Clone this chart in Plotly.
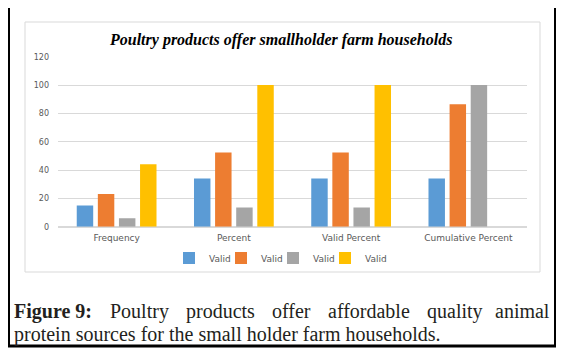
import plotly.graph_objects as go

categories = ["Frequency", "Percent", "Valid Percent", "Cumulative Percent"]
series_names = ["Valid", "Valid", "Valid", "Valid"]
series1 = [15, 34.1, 34.1, 34.1]
series2 = [23, 52.3, 52.3, 86.4]
series3 = [6, 13.6, 13.6, 100]
series4 = [44, 100, 100, None]
colors = ["#5B9BD5", "#ED7D31", "#A5A5A5", "#FFC000"]
y_ticks = [0, 20, 40, 60, 80, 100, 120]

# page body has an 8px margin; figure is sized to fill the rest of the window
OFF = 8
W, H = 564 - OFF, 350 - OFF

def px(x):
    return (x - OFF) / W

def py(y):
    return 1 - (y - OFF) / H

legend_ids = ["legend", "legend2", "legend3", "legend4"]
legend_sym_x = [194, 246, 298, 350]

fig = go.Figure()
for name, vals, col, lid in zip(series_names, [series1, series2, series3, series4], colors, legend_ids):
    fig.add_trace(go.Bar(x=categories, y=vals, name=name, marker_color=col,
                         marker_line_width=0, legend=lid))

legend_common = dict(orientation="h", yanchor="middle", xanchor="left",
                     font=dict(family="DejaVu Sans", size=9, color="#595959"),
                     itemwidth=30, bgcolor="rgba(0,0,0,0)", borderwidth=0)
layout_legends = {}
for lid, sx in zip(legend_ids, legend_sym_x):
    d = dict(legend_common)
    d["x"] = px(sx - 25)
    d["y"] = py(258)
    layout_legends[lid] = d

fig.update_layout(
    width=W, height=H,
    margin=dict(l=0, r=0, t=0, b=0),
    paper_bgcolor="white", plot_bgcolor="white",
    barmode="group", bargap=0.28, bargroupgap=0.22,
    showlegend=True,
    xaxis=dict(domain=[px(58), px(527)], showgrid=False, showline=False, zeroline=False,
               ticks="", automargin=False, ticklabelstandoff=4,
               tickfont=dict(family="DejaVu Sans", size=9, color="#595959")),
    yaxis=dict(domain=[py(226.7), py(56.7)], range=[0, 120], tickvals=y_ticks,
               showgrid=True, gridcolor="#D9D9D9", gridwidth=1, zeroline=True,
               zerolinecolor="#D9D9D9", showline=False, ticks="", automargin=False,
               ticklabelstandoff=8,
               tickfont=dict(family="DejaVu Sans", size=8, color="#595959")),
    font=dict(family="Liberation Serif"),
    **layout_legends,
)

shapes = [
    # outer black frame
    dict(type="rect", xref="paper", yref="paper", x0=px(8.5), x1=px(555.5), y0=py(346), y1=py(5.5),
         line=dict(color="black", width=3), fillcolor="rgba(0,0,0,0)", layer="above"),
    # inner chart border
    dict(type="rect", xref="paper", yref="paper", x0=px(25), x1=px(540), y0=py(272), y1=py(22),
         line=dict(color="#D9D9D9", width=1), fillcolor="rgba(0,0,0,0)", layer="below"),
]
fig.update_layout(shapes=shapes)

cap_font = dict(family="Liberation Serif", size=20, color="#231F20")
annotations = [
    dict(text="<b><i>Poultry products offer smallholder farm households</i></b>",
         x=px(280), y=py(40), xref="paper", yref="paper", showarrow=False,
         xanchor="center", yanchor="middle",
         font=dict(family="Liberation Serif", size=16, color="black")),
]
# justified first caption line: (word, left edge)
line1_words = [("<b>Figure 9:</b>", 12), ("Poultry", 107.5), ("products", 183.5), ("offer", 269.5),
               ("affordable", 325.5), ("quality", 424.5)]
for w, lx in line1_words:
    annotations.append(dict(text=w, x=px(lx), y=py(311), xref="paper", yref="paper",
                            showarrow=False, xanchor="left", yanchor="middle", font=cap_font))
annotations.append(dict(text="animal", x=px(552), y=py(311), xref="paper", yref="paper",
                        showarrow=False, xanchor="right", yanchor="middle", font=cap_font))
annotations.append(dict(text="protein sources for the small holder farm households.",
                        x=px(12), y=py(334), xref="paper", yref="paper",
                        showarrow=False, xanchor="left", yanchor="middle", font=cap_font))
fig.update_layout(annotations=annotations)

fig.write_html("out.html")
